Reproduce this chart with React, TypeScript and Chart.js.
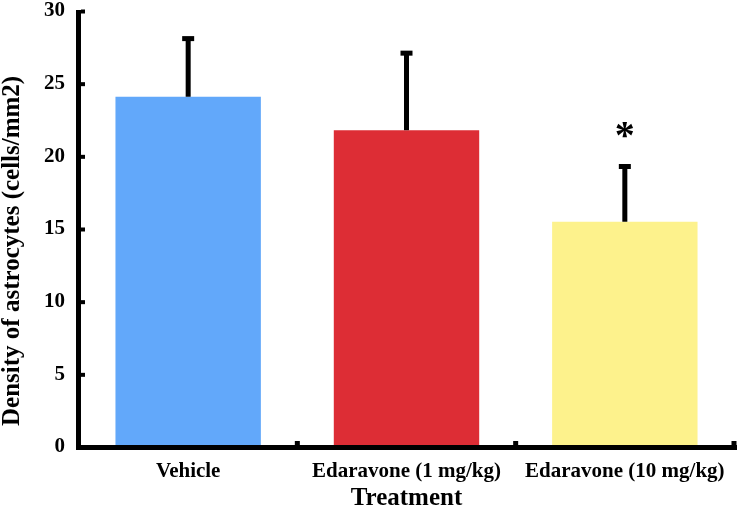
import React, { useEffect, useRef } from "react";
import { Chart, registerables } from "chart.js";

Chart.register(...registerables);

const categories = ["Vehicle", "Edaravone (1 mg/kg)", "Edaravone (10 mg/kg)"];
const means = [24.1, 21.8, 15.5];
const errors = [4.0, 5.3, 3.8];
const significance = ["", "", "*"];
const barColors = ["#62A8FA", "#DD2D35", "#FDF28C"];
const yTicks = [0, 5, 10, 15, 20, 25, 30];
const xTitle = "Treatment";
const yTitle = "Density of astrocytes (cells/mm2)";

const FONT = '"Liberation Serif", "Times New Roman", serif';

const overlayPlugin = {
  id: "overlay",
  afterDatasetsDraw(chart: any) {
    const ctx = chart.ctx;
    const xs = chart.scales.x;
    const ys = chart.scales.y;
    const meta = chart.getDatasetMeta(0);
    const { left, right, top, bottom } = chart.chartArea;
    ctx.save();
    ctx.fillStyle = "#000";
    meta.data.forEach((bar: any, i: number) => {
      const cx = bar.x;
      const y0 = ys.getPixelForValue(means[i]);
      const y1 = ys.getPixelForValue(means[i] + errors[i]);
      ctx.fillRect(cx - 2.5, y1, 5, y0 - y1);
      ctx.fillRect(cx - 6, y1 - 2.5, 12, 5);
      if (significance[i]) {
        ctx.font = `bold 40px ${FONT}`;
        ctx.textAlign = "center";
        ctx.textBaseline = "middle";
        ctx.fillText(significance[i], cx, y1 - 29);
      }
    });
    // axis lines
    ctx.fillRect(left - 3, top - 1, 5, bottom - top + 4);
    ctx.fillRect(left - 3, bottom - 2, right - left + 6, 5);
    // y tick marks (inward)
    yTicks.forEach((v) => {
      const py = ys.getPixelForValue(v);
      if (v > 0) ctx.fillRect(left + 2, py - 1.5, 4, 4);
    });
    // x boundary tick marks (upward)
    for (let i = 1; i <= categories.length; i++) {
      const bx = xs.getPixelForValue(i - 0.5);
      ctx.fillRect(bx - 2.5, bottom - 6, 5, 5);
    }
    ctx.restore();
  },
};

export default function App() {
  const ref = useRef<HTMLCanvasElement | null>(null);

  useEffect(() => {
    if (!ref.current) return;
    const chart = new Chart(ref.current, {
      type: "bar",
      data: {
        labels: categories,
        datasets: [
          {
            data: means,
            backgroundColor: barColors,
            borderWidth: 0,
            barPercentage: 0.666,
            categoryPercentage: 1,
          },
        ],
      },
      options: {
        responsive: false,
        animation: false,
        devicePixelRatio: 1,
        layout: { padding: { left: 0, top: 11, right: 5, bottom: 0 } },
        plugins: {
          legend: { display: false },
          tooltip: { enabled: false },
        },
        scales: {
          x: {
            grid: { display: false, drawTicks: false },
            border: { display: false },
            ticks: {
              color: "#000",
              padding: 12,
              maxRotation: 0,
              autoSkip: false,
              font: { family: FONT, size: 21, weight: "bold" },
            },
            title: {
              display: true,
              text: xTitle,
              color: "#000",
              padding: { top: 0, bottom: -3.5 },
              font: { family: FONT, size: 25, weight: "bold", lineHeight: 1 },
            },
            afterFit: (scale: any) => {
              scale.height = 61;
              scale.paddingLeft = 0;
              scale.paddingRight = 0;
            },
          },
          y: {
            min: 0,
            max: 30,
            grid: { display: false, drawTicks: false },
            border: { display: false },
            ticks: {
              stepSize: 5,
              color: "#000",
              padding: 14,
              font: { family: FONT, size: 21, weight: "bold" },
            },
            title: {
              display: true,
              text: yTitle + "       ",
              color: "#000",
              padding: { top: 0.5, bottom: 0 },
              font: { family: FONT, size: 25, weight: "bold", lineHeight: 1 },
            },
            afterFit: (scale: any) => {
              scale.width = 79;
              scale.paddingTop = 0;
              scale.paddingBottom = 0;
            },
          },
        },
      },
      plugins: [overlayPlugin],
    });
    return () => chart.destroy();
  }, []);

  return (
    <div style={{ position: "fixed", left: 0, top: 0, width: 739, height: 508, background: "#fff" }}>
      <canvas ref={ref} width={739} height={508} style={{ display: "block" }} />
    </div>
  );
}
